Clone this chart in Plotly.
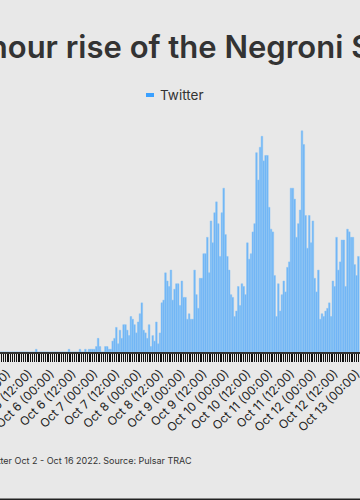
import pandas as pd
import plotly.graph_objects as go

# Hourly Twitter mentions (visible window), starting Oct 4 2022 20:00
start_time = "2022-10-04 20:00"
tweets = (
    [0] * 20 + [1] + [0] * 17 + [1] + [0] * 5 + [1, 0, 0, 1, 0, 1, 1, 1, 1, 2, 5, 2, 0, 0, 2, 2, 1, 1]
    + [4, 5, 9, 3, 8, 5, 10, 10, 8, 6, 13, 12, 10, 7, 11, 14, 18, 8, 7, 5]
    + [10, 2, 6, 4, 11, 3, 7, 18, 19, 29, 26, 24, 30, 19, 23, 25, 25, 17, 26, 20]
    + [20, 12, 14, 12, 12, 30, 21, 16, 27, 27, 36, 36, 42, 29, 48, 40, 51, 55, 47, 35]
    + [51, 60, 43, 35, 30, 21, 20, 13, 15, 24, 17, 25, 24, 21, 40, 34, 36, 44, 47, 73]
    + [63, 75, 79, 70, 72, 72, 53, 45, 44, 28, 13, 25, 15, 21, 26, 22, 31, 33, 60, 60]
    + [56, 42, 47, 52, 81, 76, 50, 38, 50, 40, 48, 27, 22, 30, 12, 14, 13, 15, 16, 18]
    + [13, 26, 24, 42, 30, 33, 41, 41, 24, 45, 44, 42, 42, 32, 28, 35]
)
hours = pd.date_range(start_time, periods=len(tweets), freq="h")

title_text = "The hour-by-hour rise of the Negroni Sbagliato"
legend_text = "Twitter"
source_text = "Twitter Oct 2 - Oct 16 2022. Source: Pulsar TRAC"
view_start = "2022-10-04 20:05"
view_end = "2022-10-13 01:53"

BG = "#e8e8e8"
FONT = "Inter"

fig = go.Figure(
    go.Bar(
        x=hours,
        y=tweets,
        marker=dict(color="#6db4f6", line=dict(color="#8cc4f5", width=0.5)),
        showlegend=False,
    )
)

T, B = 120, 148
PH = 500 - T - B


def py(px):
    return (500 - B - px) / PH


fig.update_layout(
    width=360,
    height=500,
    paper_bgcolor=BG,
    plot_bgcolor=BG,
    margin=dict(l=0, r=0, t=T, b=B, autoexpand=False),
    bargap=0.1,
    font=dict(family=FONT, color="#222"),
    title=dict(
        text=title_text,
        x=0.392,
        xanchor="center",
        y=1 - 47 / 500,
        yanchor="middle",
        font=dict(size=31, family=FONT, color="#333", weight=600),
    ),
    xaxis=dict(
        type="date",
        automargin=False,
        range=[view_start, view_end],
        tick0="2022-10-06 00:00",
        dtick=12 * 3600 * 1000,
        tickformat="%b %-d (%H:%M)",
        tickangle=-45,
        tickfont=dict(size=12, color="#222"),
        ticklabeloverflow="allow",
        ticks="outside",
        ticklen=8,
        tickcolor="#111",
        showline=True,
        linecolor="#333",
        linewidth=2,
        showgrid=False,
        zeroline=False,
        minor=dict(dtick=3600 * 1000, ticks="outside", ticklen=8, tickcolor="#111", tickwidth=1, showgrid=False),
    ),
    yaxis=dict(
        automargin=False,
        range=[0, PH / 2.73],
        showticklabels=False,
        showgrid=False,
        zeroline=False,
        ticks="",
    ),
    annotations=[
        dict(
            text=legend_text,
            xref="paper",
            yref="paper",
            x=158 / 360,
            y=py(95),
            xanchor="left",
            yanchor="middle",
            showarrow=False,
            font=dict(size=13.5, color="#333", family=FONT),
        ),
        dict(
            text=source_text,
            xref="paper",
            yref="paper",
            x=194 / 360,
            y=py(468),
            xanchor="right",
            yanchor="bottom",
            showarrow=False,
            font=dict(size=9, color="#333", family=FONT),
        ),
    ],
    shapes=[
        dict(
            type="line",
            xref="paper",
            yref="paper",
            x0=146 / 360,
            x1=154 / 360,
            y0=py(95),
            y1=py(95),
            line=dict(color="#3aa0ff", width=4),
        ),
        dict(
            type="line",
            xref="paper",
            yref="paper",
            x0=0,
            x1=1,
            y0=py(499.3),
            y1=py(499.3),
            line=dict(color="#222", width=1.5),
        ),
    ],
)

fig.write_html(
    "out.html",
    config={"displayModeBar": False},
    post_script="document.body.style.margin='0';document.body.style.background='#e8e8e8';",
)
